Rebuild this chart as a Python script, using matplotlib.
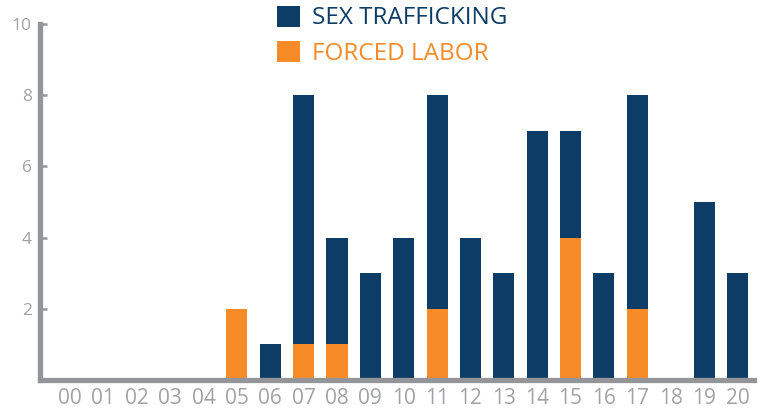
import matplotlib
matplotlib.use("Agg")
import matplotlib.pyplot as plt
from matplotlib.patches import Patch

years = ["00", "01", "02", "03", "04", "05", "06", "07", "08", "09", "10",
         "11", "12", "13", "14", "15", "16", "17", "18", "19", "20"]
forced_labor = [0, 0, 0, 0, 0, 2, 0, 1, 1, 0, 0, 2, 0, 0, 0, 4, 0, 2, 0, 0, 0]
sex_trafficking = [0, 0, 0, 0, 0, 0, 1, 7, 3, 3, 4, 6, 4, 3, 7, 3, 3, 6, 0, 5, 3]

blue = "#0d3d66"
orange = "#f68b28"
grey = "#939598"
label_grey = "#a0a2a5"

plt.rcParams['font.family'] = ['Open Sans', 'DejaVu Sans']

fig = plt.figure(figsize=(7.64, 4.12), dpi=100)
ax = fig.add_axes([0.0524, 0.0777, 0.9346, 0.864])

x = list(range(len(years)))
ax.bar(x, forced_labor, width=0.63, color=orange, zorder=2)
ax.bar(x, sex_trafficking, width=0.63, bottom=forced_labor, color=blue, zorder=2)

ax.set_xlim(-0.9, 20.5)
ax.set_ylim(0, 10)
ax.set_yticks([2, 4, 6, 8, 10])
ax.set_xticks(x)
ax.set_xticklabels(years)

for s in ["top", "right"]:
    ax.spines[s].set_visible(False)
for s in ["left", "bottom"]:
    ax.spines[s].set_color(grey)
    ax.spines[s].set_linewidth(3.8)
    ax.spines[s].set_zorder(3)

ax.tick_params(axis="y", direction="in", length=5, width=1.8, color=grey,
               labelcolor=label_grey, labelsize=12.5, pad=6)
ax.tick_params(axis="x", length=0, labelcolor=label_grey, labelsize=15, pad=6)

handles = [Patch(facecolor=blue, edgecolor="none"),
           Patch(facecolor=orange, edgecolor="none")]
leg = fig.legend(handles, ["SEX TRAFFICKING", "FORCED LABOR"],
                 loc="upper left", bbox_to_anchor=(0.35, 1.01),
                 frameon=False, fontsize=17.5, labelcolor=[blue, orange],
                 handlelength=0.95, handleheight=0.95, handletextpad=0.5,
                 labelspacing=0.45, borderaxespad=0)

fig.savefig("out.png", dpi=100)
